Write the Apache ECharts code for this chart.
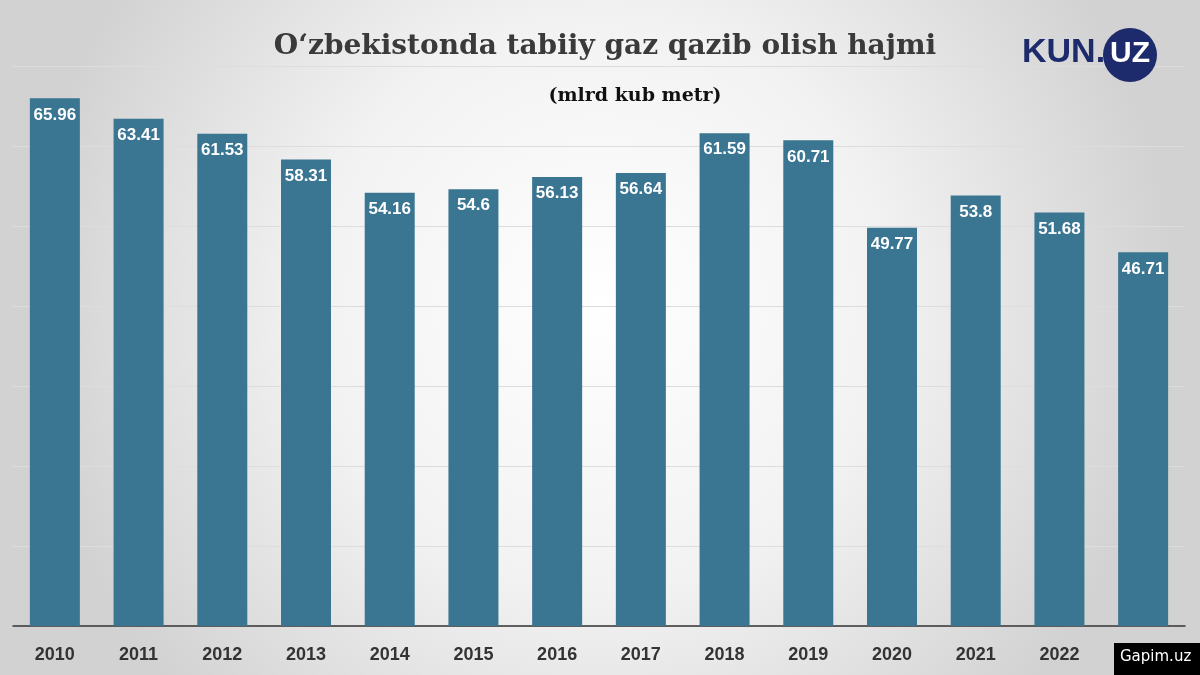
<!DOCTYPE html>
<html>
<head>
<meta charset="utf-8">
<script src="https://cdn.jsdelivr.net/npm/echarts@6/dist/echarts.min.js"></script>
<style>
  html, body { margin: 0; padding: 0; }
  #chart { width: 1200px; height: 675px; }
</style>
</head>
<body>
<div id="chart"></div>
<script>
// Gas production, billion cubic metres
const years = ['2010', '2011', '2012', '2013', '2014', '2015', '2016', '2017', '2018', '2019', '2020', '2021', '2022', '2023']
const values = [65.96, 63.41, 61.53, 58.31, 54.16, 54.6, 56.13, 56.64, 61.59, 60.71, 49.77, 53.8, 51.68, 46.71]

let myChart = echarts.init(document.getElementById('chart'))
const options = {
  backgroundColor: {
    type: 'radial', x: 0.5, y: 0.45, r: 0.85,
    colorStops: [{ offset: 0, color: '#ffffff' }, { offset: 0.5, color: '#f2f2f2' }, { offset: 1, color: '#d2d2d2' }]
  },
  title: [{
    text: 'O‘zbekistonda tabiiy gaz qazib olish hajmi',
    left: 600, top: 28, textAlign: 'center',
    textStyle: { fontFamily: 'DejaVu Serif', fontSize: 28, fontWeight: 'bold', color: '#3a3a3a' }
  }, {
    text: '(mlrd kub metr)',
    left: 630, top: 82, textAlign: 'center',
    textStyle: { fontFamily: 'DejaVu Serif', fontSize: 19, fontWeight: 'bold', color: '#111' }
  }],
  graphic: [
    { type: 'text', z: 100, left: 1022, top: 36, style: { text: 'KUN.', font: 'bold 34px "Liberation Sans"', fill: '#1d2a6b' } },
    { type: 'circle', z: 100, shape: { cx: 1130, cy: 55, r: 27 }, style: { fill: '#1d2a6b' } },
    { type: 'text', z: 101, left: 1110, top: 39, style: { text: 'UZ', font: 'bold 30px "Liberation Sans"', fill: '#ffffff' } },
    { type: 'rect', z: 100, shape: { x: 1114, y: 643, width: 86, height: 32 }, style: { fill: '#000' } },
    { type: 'text', z: 101, left: 1120, top: 650, style: { text: 'Gapim.uz', font: '15px "DejaVu Sans"', fill: '#fff' } }
  ],
  grid: { left: 13, right: 15, top: 66, bottom: 49 },
  xAxis: {
    type: 'category',
    data: years,
    axisTick: { show: false },
    axisLine: { lineStyle: { color: '#333', width: 1.5 } },
    axisLabel: { fontSize: 18, fontWeight: 'bold', color: '#333', margin: 20, fontFamily: 'Liberation Sans' }
  },
  yAxis: {
    type: 'value', min: 0, max: 70, interval: 10,
    axisLabel: { show: false },
    splitLine: { lineStyle: { color: '#dddddd' } }
  },
  series: [{
    type: 'bar',
    data: values,
    barWidth: 50,
    itemStyle: { color: '#3a7591' },
    label: {
      show: true, position: 'insideTop', distance: 8,
      color: '#fff', fontSize: 17, fontWeight: 'bold', fontFamily: 'Liberation Sans'
    }
  }]
}
options && myChart.setOption(options)
</script>
</body>
</html>
